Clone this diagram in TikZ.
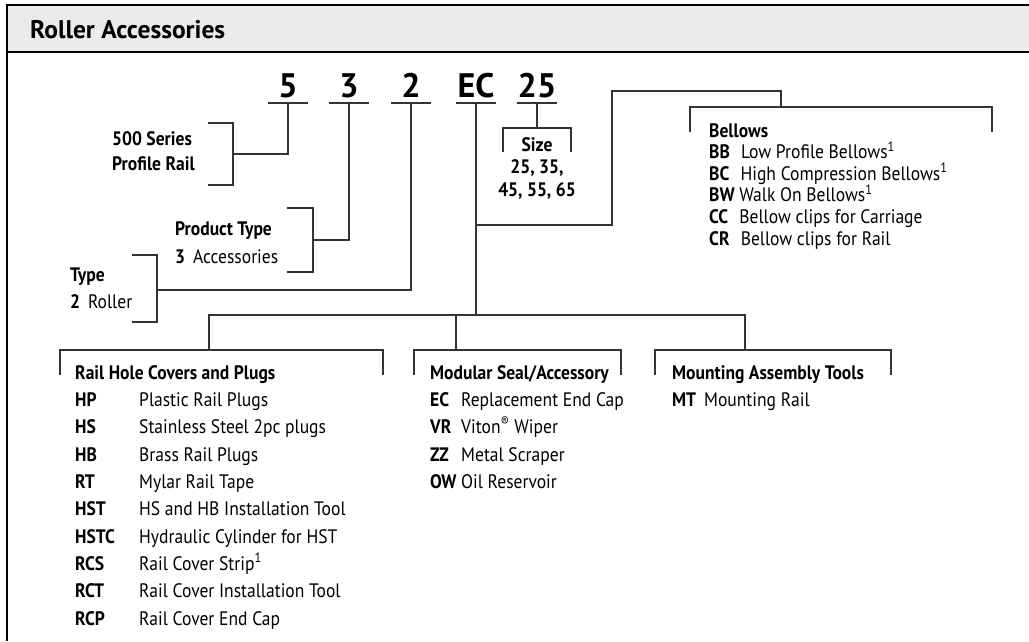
\documentclass[tikz,border=0pt]{standalone}
\usepackage{fontspec}
\setmainfont{PT Sans}[FakeStretch=0.9]
\newfontfamily\headfont{PT Sans}
\begin{document}
\begin{tikzpicture}[x=1pt,y=-1pt,
    line/.style={draw=black!80, line width=1.1pt},
    code/.style={font=\headfont\fontsize{34}{34}\selectfont\bfseries, anchor=base, inner sep=0pt},
    lbl/.style={font=\fontsize{19.5}{27.3}\selectfont, anchor=north west, inner sep=0pt, align=left},
    lbl2/.style={font=\fontsize{19.5}{22.5}\selectfont\bfseries, anchor=north, inner sep=0pt, align=center}]

    \useasboundingbox (0,0) rectangle (1029,641);

    % header band
    \fill[black!8] (7,5) rectangle (1029,52);
    \draw[line width=2pt] (1029,5) -- (7,5) -- (7,641);
    \draw[line width=1.2pt] (7,52) -- (1029,52);
    \node (title) [anchor=west, inner sep=0pt, font=\headfont\fontsize{25.5}{25.5}\selectfont\bfseries] at (30,30) {Roller Accessories};

    % part number
    \node (c5)  [code] at (288,97) {5};
    \node (c3)  [code] at (349,97) {3};
    \node (c2)  [code] at (411,97) {2};
    \node (cEC) [code] at (476,97) {EC};
    \node (c25) [code] at (537,97) {25};
    \foreach \x/\n in {288/5, 349/3, 411/2, 476/EC, 537/25} {
        \coordinate (u\n) at (\x,103);
        \draw[line] (\x-20,103) -- (\x+20,103);
    }

    % 500 series
    \node (series) [lbl, font=\fontsize{19.5}{25}\selectfont\bfseries] at (112,131) {500 Series\\Profile Rail};
    \coordinate (b5) at (233,154);
    \draw[line] (208,123) -- (233,123) -- (233,185) -- (208,185);
    \draw[line] (u5) |- (b5);

    % product type
    \node (ptype) [lbl, font=\fontsize{19.5}{28}\selectfont] at (175,221) {\textbf{Product Type}\\\textbf{3}\, Accessories};
    \coordinate (b3) at (313,240);
    \draw[line] (287,208) -- (313,208) -- (313,272) -- (287,272);
    \draw[line] (u3) |- (b3);

    % type
    \node (type) [lbl, font=\fontsize{19.5}{27}\selectfont] at (70,268) {\textbf{Type}\\\textbf{2}\, Roller};
    \coordinate (b2) at (157,290);
    \draw[line] (132,255) -- (157,255) -- (157,322) -- (132,322);
    \draw[line] (u2) |- (b2);

    % size
    \node (size) [lbl2] at (537,137) {Size\\25, 35,\\45, 55, 65};
    \coordinate (b25) at (537,128);
    \draw[line] (u25) -- (b25);
    \draw[line] (503,152) -- (503,128) -- (571,128) -- (571,152);

    % bellows
    \coordinate (jb) at (476,225);
    \coordinate (bb) at (781,107);
    \draw[line] (jb) -- (612,225) -- (612,91) -| (bb);
    \draw[line] (690,132) -- (690,107) -- (992,107) -- (992,132);
    \node (bellows) [lbl, font=\fontsize{19.5}{21.6}\selectfont] at (709,123)
        {\textbf{Bellows}\\
         \textbf{BB}\,\, Low Profile Bellows\textsuperscript{1}\\
         \textbf{BC}\,\, High Compression Bellows\textsuperscript{1}\\
         \textbf{BW} Walk On Bellows\textsuperscript{1}\\
         \textbf{CC}\,\, Bellow clips for Carriage\\
         \textbf{CR}\,\, Bellow clips for Rail};

    % main branch
    \coordinate (jm) at (476,315);
    \coordinate (br) at (209,350);
    \coordinate (bm) at (456,350);
    \coordinate (bt) at (745,350);
    \draw[line] (uEC) -- (jm);
    \draw[line] (br) |- (jm) -| (bt);
    \draw[line] (bm) -- (bm |- jm);
    \draw[line] (60,375) -- (60,350) -- (383,350) -- (383,375);
    \draw[line] (414,375) -- (414,350) -- (621,350) -- (621,375);
    \draw[line] (655,375) -- (655,350) -- (891,350) -- (891,375);

    \node (rail) [lbl] at (75,360) {%
        \begin{tabular}{@{}p{64pt}@{}l@{}}
        \multicolumn{2}{@{}l@{}}{\bfseries Rail Hole Covers and Plugs}\\
        \bfseries HP & Plastic Rail Plugs\\
        \bfseries HS & Stainless Steel 2pc plugs\\
        \bfseries HB & Brass Rail Plugs\\
        \bfseries RT & Mylar Rail Tape\\
        \bfseries HST & HS and HB Installation Tool\\
        \bfseries HSTC & Hydraulic Cylinder for HST\\
        \bfseries RCS & Rail Cover Strip\textsuperscript{1}\\
        \bfseries RCT & Rail Cover Installation Tool\\
        \bfseries RCP & Rail Cover End Cap
        \end{tabular}};

    \node (seal) [lbl] at (430,360) {%
        \begin{tabular}{@{}p{31pt}@{}l@{}}
        \multicolumn{2}{@{}l@{}}{\bfseries Modular Seal/Accessory}\\
        \bfseries EC & Replacement End Cap\\
        \bfseries VR & Viton\textsuperscript{\textregistered} Wiper\\
        \bfseries ZZ & Metal Scraper\\
        \bfseries OW & Oil Reservoir
        \end{tabular}};

    \node (tools) [lbl] at (672,360) {%
        \begin{tabular}{@{}l@{}}
        \bfseries Mounting Assembly Tools\\
        \textbf{MT}\, Mounting Rail
        \end{tabular}};

\end{tikzpicture}
\end{document}
